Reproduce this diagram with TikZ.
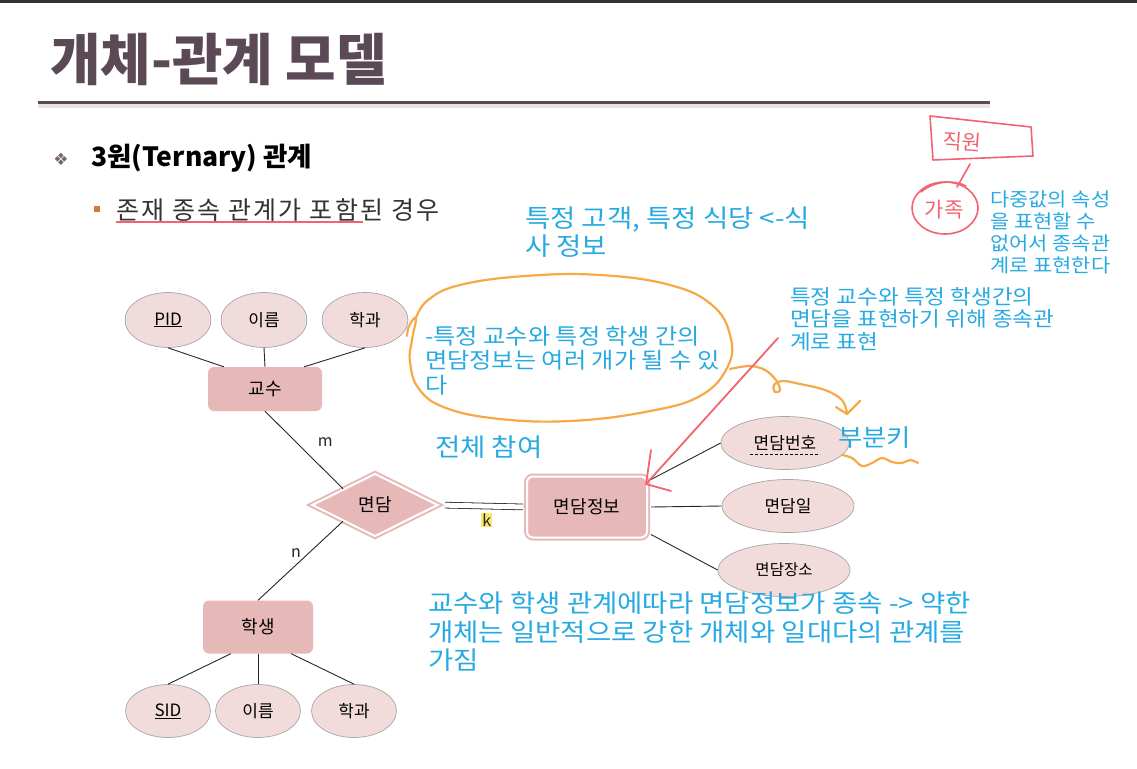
\documentclass[tikz,border=0pt]{standalone}
\usepackage{fontspec}
\setmainfont{Noto Sans CJK KR}
\newfontfamily\symfont{DejaVu Sans}
\newfontfamily\titlefont{Noto Sans CJK KR}[FakeStretch=0.98]
\newfontfamily\penfont{Noto Sans CJK KR}[FakeStretch=1.1]
\newfontfamily\bodyfont{Noto Sans CJK KR}[LetterSpace=9]
\usetikzlibrary{shapes.geometric,calc}
\definecolor{titlegray}{HTML}{5B4A56}
\definecolor{penblue}{HTML}{27AAE1}
\definecolor{penorange}{HTML}{F7A847}
\definecolor{penred}{HTML}{F2636F}
\definecolor{entityfill}{HTML}{E6B9B8}
\definecolor{attrfill}{HTML}{F2DCDB}
\definecolor{attrline}{HTML}{A6A6A6}
\definecolor{bulletorange}{HTML}{D9773A}
\definecolor{keymark}{HTML}{FCE66A}
\tikzset{
    entity box/.style={
        rectangle,
        rounded corners=6pt,
        fill=entityfill,
        inner sep=0pt,
        font=\fontsize{18}{20}\selectfont
    },
    weak box/.style={
        entity box,
        draw=entityfill,
        line width=2pt,
        double=white,
        double distance=2pt
    },
    relation/.style={
        diamond,
        fill=entityfill,
        draw=entityfill,
        line width=2pt,
        double=white,
        double distance=2pt,
        inner sep=0pt,
        font=\fontsize{18}{20}\selectfont
    },
    attribute/.style={
        ellipse,
        fill=attrfill,
        draw=attrline,
        line width=0.7pt,
        inner sep=0pt,
        font=\fontsize{17}{20}\selectfont
    },
    er line/.style={line width=0.9pt, black!85},
    card/.style={inner sep=1pt, font=\fontsize{16}{18}\selectfont},
    pen text/.style={penblue, align=left, inner sep=0pt},
    pen line/.style={line width=2.2pt, line cap=round, line join=round}
}

\begin{document}
\begin{tikzpicture}[x=1pt,y=-1pt]
    \useasboundingbox (0,0) rectangle (1137,768);
    \fill[black!80] (0,0) rectangle (1137,3);
    % title
    \node[anchor=west, inner sep=0pt, text=titlegray,
        font=\titlefont\bfseries\fontsize{56}{60}\selectfont]
        (title) at (50,60) {개체-관계 모델};
    \fill[black!10] (38,104) rectangle (990,108);
    \fill[titlegray] (38,101) rectangle (990,104);
    \node[text=titlegray!85, font=\symfont\fontsize{17}{20}\selectfont]
        (diamondbullet) at (61,159) {❖};
    \node[anchor=west, inner sep=0pt, font=\bfseries\fontsize{26.5}{30}\selectfont]
        (heading) at (91,158) {3원(Ternary) 관계};
    \node[fill=bulletorange, minimum size=6pt, inner sep=0pt]
        (squarebullet) at (97,209) {};
    \node[anchor=west, inner sep=0pt, text=black!80, font=\bodyfont\fontsize{25}{28}\selectfont]
        (subhead) at (116,210) {존재 종속 관계가 포함된 경우};
    \draw[penred, line width=1.2pt] (116,222) -- (363,222);

    % entities and relation
    \node[entity box, minimum width=114pt, minimum height=44pt] (prof) at (265,389) {교수};
    \node[entity box, minimum width=110pt, minimum height=53pt] (student) at (258,627) {학생};
    \node[relation, minimum width=126pt, minimum height=63pt] (meet) at (375,505) {면담};
    \node[weak box, minimum width=120pt, minimum height=61pt] (info) at (587,507) {면담정보};

    % attributes
    \node[attribute, minimum width=86pt, minimum height=55pt] (pid) at (168,320) {\underline{PID}};
    \node[attribute, minimum width=86pt, minimum height=55pt] (pname) at (264,320) {이름};
    \node[attribute, minimum width=86pt, minimum height=55pt] (pdept) at (365,320) {학과};
    \node[attribute, minimum width=85pt, minimum height=53pt] (sid) at (168,711) {\underline{SID}};
    \node[attribute, minimum width=85pt, minimum height=53pt] (sname) at (258,711) {이름};
    \node[attribute, minimum width=85pt, minimum height=53pt] (sdept) at (354,711) {학과};
    \node[attribute, minimum width=128pt, minimum height=53pt] (num) at (785,443) {면담번호};
    \draw[densely dashed, line width=0.8pt] ($(num.center)+(-35,11)$) -- ($(num.center)+(35,11)$);
    \node[attribute, minimum width=132pt, minimum height=53pt] (date) at (788,506) {면담일};
    \node[attribute, minimum width=132pt, minimum height=53pt,
        font=\fontsize{15.5}{18}\selectfont] (place) at (784,570) {면담장소};

    % connectors
    \draw[er line] (pid.south) -- ($(prof.north west)+(16,0)$);
    \draw[er line] (pname.south) -- (prof.north);
    \draw[er line] (pdept.south) -- ($(prof.north east)+(-18,0)$);
    \draw[er line] (prof.south) -- (meet.north west)
        node[card, pos=0.4, xshift=29pt] (mcard) {m};
    \draw[er line] (meet.south west) -- (student.north)
        node[card, pos=0.4, xshift=-13pt] (ncard) {n};
    \draw[er line] ($(student.south west)+(28,0)$) -- (sid.north);
    \draw[er line] (student.south) -- (sname.north);
    \draw[er line] ($(student.south east)+(-22,0)$) -- (sdept.north);
    \draw[er line, double, double distance=5pt, line width=0.8pt,
        shorten <=6pt, shorten >=3pt] (meet.east) -- (info.west)
        node[card, pos=0.55, below=6pt, fill=keymark] (kcard) {k};
    \draw[er line] ($(info.north east)+(3,4)$) -- (num.west);
    \draw[er line] ($(info.east)+(3,0)$) -- (date.west);
    \draw[er line] ($(info.south east)+(3,-4)$) -- (place.west);

    % pen notes
    \node[pen text, anchor=north west, font=\penfont\fontsize{25}{28}\selectfont]
        (mealnote) at (525,207) {특정 고객, 특정 식당 <-식\\사 정보};
    \node[pen text, anchor=north west, font=\penfont\fontsize{22}{24.5}\selectfont]
        (manynote) at (425,326) {-특정 교수와 특정 학생 간의\\면담정보는 여러 개가 될 수 있\\다};
    \node[pen text, anchor=north west, font=\penfont\fontsize{20.5}{22.5}\selectfont]
        (whynote) at (790,287) {특정 교수와 특정 학생간의\\면담을 표현하기 위해 종속관\\계로 표현};
    \node[pen text, anchor=north west, font=\penfont\fontsize{19}{22}\selectfont]
        (multinote) at (990,191) {다중값의 속성\\을 표현할 수\\없어서 종속관\\계로 표현한다};
    \node[pen text, anchor=west, font=\penfont\fontsize{25}{28}\selectfont]
        (totalnote) at (435,447) {전체 참여};
    \node[pen text, anchor=west, font=\penfont\fontsize{24}{28}\selectfont]
        (partkey) at (838,438) {부분키};
    \node[pen text, anchor=north west, font=\penfont\fontsize{25}{28.5}\selectfont]
        (weaknote) at (428,592) {교수와 학생 관계에따라 면담정보가 종속 -> 약한\\개체는 일반적으로 강한 개체와 일대다의 관계를\\가짐};

    % orange pen
    \draw[pen line, penorange] plot[smooth, tension=0.7] coordinates {
        (407,336) (409,326) (416,318) (412,340) (410,362) (419,389) (446,408)
        (500,419) (570,421) (645,412) (700,396) (728,366) (730,335) (712,305)
        (670,285) (600,275) (525,276) (460,285) (428,300) (416,318)};
    \draw[pen line, penorange] plot[smooth, tension=0.6] coordinates {
        (730,369) (750,366) (765,370) (776,380) (780,390) (775,392) (774,385)
        (783,381) (800,384) (825,390) (842,400) (847,413)};
    \draw[pen line, penorange] (836,407) -- (847,414) -- (860,401);
    \draw[pen line, penorange] plot[smooth, tension=0.6] coordinates {
        (842,455) (852,458) (862,466) (872,463) (882,458) (892,462)
        (902,463) (910,460) (918,463)};

    % red pen
    \draw[pen line, penred, line width=1.8pt] (778,338) -- (646,484);
    \draw[pen line, penred, line width=1.8pt] (651,450) -- (646,484) -- (671,491);
    \draw[pen line, penred, line width=1.6pt]
        (930,116) -- (1031,127) -- (1033,156) -- (933,160) -- cycle;
    \node[text=penred, rotate=-4, font=\fontsize{21}{24}\selectfont] (staff) at (962,142) {직원};
    \draw[pen line, penred, line width=1.6pt] (970,164) -- (957,187);
    \draw[pen line, penred, line width=1.6pt] (945,208) ellipse [x radius=33, y radius=26];
    \draw[pen line, penred, line width=1.6pt] (921,192) .. controls (935,180) and (955,180) .. (966,186);
    \node[text=penred, font=\fontsize{21}{24}\selectfont] (family) at (944,210) {가족};
\end{tikzpicture}
\end{document}
